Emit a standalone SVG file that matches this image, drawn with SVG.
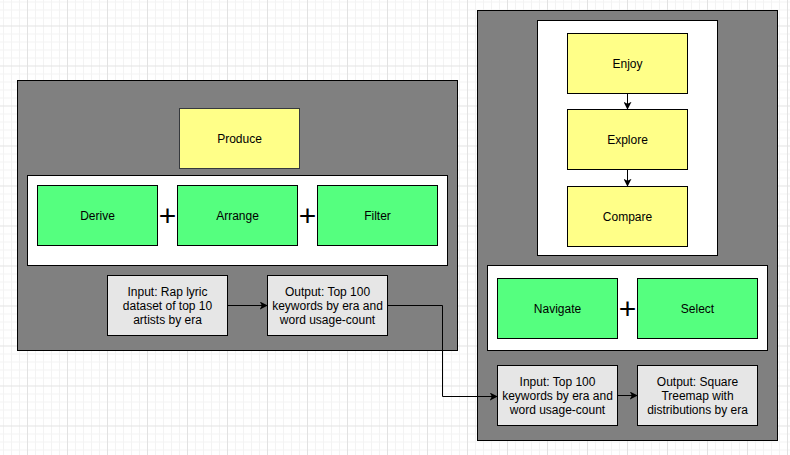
<svg xmlns="http://www.w3.org/2000/svg" width="790" height="455" viewBox="0 0 790 455">
<defs>
<pattern id="grid" patternUnits="userSpaceOnUse" x="27" y="25.5" width="40" height="40">
<path d="M8.5,0V40M16.5,0V40M24.5,0V40M32.5,0V40M0,8.5H40M0,16.5H40M0,24.5H40M0,32.5H40" stroke="#f3f3f3" stroke-width="1" fill="none"/>
<path d="M0.5,0V40M0,0.5H40" stroke="#e2e2e2" stroke-width="1" fill="none"/>
</pattern>
<marker id="arr" viewBox="0 0 10 10" refX="9" refY="5" markerWidth="8" markerHeight="8" markerUnits="userSpaceOnUse" orient="auto">
<path d="M0,0 L10,5 L0,10 L2.5,5 Z" fill="#000"/>
</marker>
</defs>
<style>
.panel{fill:#808080;stroke:#000;stroke-width:1}
.white{fill:#fff;stroke:#000;stroke-width:1}
.yellow{fill:#ffff88;stroke:#36393d;stroke-width:1}
.yellowb{fill:#ffff88;stroke:#000;stroke-width:1}
.green{fill:#55ff7f;stroke:#000;stroke-width:1}
.gray{fill:#e6e6e6;stroke:#000;stroke-width:1}
text{font-family:"Liberation Sans",Arial,sans-serif;font-size:12px;fill:#000;text-anchor:middle}
.plus{font-size:30px}
.conn{fill:none;stroke:#000;stroke-width:1;marker-end:url(#arr)}
</style>
<rect width="790" height="455" fill="#fff"/>
<rect width="790" height="455" fill="url(#grid)"/>

<g id="left-panel">
<rect class="panel" x="17.5" y="80.5" width="440" height="270"/>
</g>
<g id="produce">
<rect class="yellow" x="179.5" y="108.5" width="120" height="60"/>
<text x="239.5" y="142.5">Produce</text>
</g>
<g id="left-actions">
<rect class="white" x="27.5" y="175.5" width="420" height="90"/>
</g>
<g id="derive">
<rect class="green" x="37.5" y="185.5" width="120" height="60"/>
<text x="97.5" y="219.5">Derive</text>
</g>
<g id="plus1"><text class="plus" x="167.5" y="226">+</text></g>
<g id="arrange">
<rect class="green" x="177.5" y="185.5" width="120" height="60"/>
<text x="237.5" y="219.5">Arrange</text>
</g>
<g id="plus2"><text class="plus" x="307.5" y="226">+</text></g>
<g id="filter">
<rect class="green" x="317.5" y="185.5" width="120" height="60"/>
<text x="377.5" y="219.5">Filter</text>
</g>
<g id="input-left">
<rect class="gray" x="107.5" y="275.5" width="120" height="60"/>
<text x="167.5" y="296">Input: Rap lyric</text>
<text x="167.5" y="310">dataset of top 10</text>
<text x="167.5" y="324">artists by era</text>
</g>
<g id="output-left">
<rect class="gray" x="267.5" y="275.5" width="120" height="60"/>
<text x="327.5" y="296">Output: Top 100</text>
<text x="327.5" y="310">keywords by era and</text>
<text x="327.5" y="324">word usage-count</text>
</g>

<g id="right-panel">
<rect class="panel" x="477.5" y="10.5" width="300" height="430"/>
</g>
<g id="tasks">
<rect class="white" x="537.5" y="20.5" width="180" height="235"/>
</g>
<g id="enjoy">
<rect class="yellowb" x="567.5" y="33.5" width="120" height="60"/>
<text x="627.5" y="67.5">Enjoy</text>
</g>
<g id="explore">
<rect class="yellowb" x="567.5" y="109.5" width="120" height="60"/>
<text x="627.5" y="143.5">Explore</text>
</g>
<g id="compare">
<rect class="yellowb" x="567.5" y="186.5" width="120" height="60"/>
<text x="627.5" y="220.5">Compare</text>
</g>
<g id="right-actions">
<rect class="white" x="487.5" y="265.5" width="280" height="85"/>
</g>
<g id="navigate">
<rect class="green" x="497.5" y="278.5" width="120" height="60"/>
<text x="557.5" y="312.5">Navigate</text>
</g>
<g id="plus3"><text class="plus" x="627.5" y="319">+</text></g>
<g id="select">
<rect class="green" x="637.5" y="278.5" width="120" height="60" stroke="#36393d"/>
<text x="697.5" y="312.5">Select</text>
</g>
<g id="input-right">
<rect class="gray" x="497.5" y="365.5" width="120" height="60"/>
<text x="557.5" y="386">Input: Top 100</text>
<text x="557.5" y="400">keywords by era and</text>
<text x="557.5" y="414">word usage-count</text>
</g>
<g id="output-right">
<rect class="gray" x="637.5" y="365.5" width="120" height="60"/>
<text x="697.5" y="386">Output: Square</text>
<text x="697.5" y="400">Treemap with</text>
<text x="697.5" y="414">distributions by era</text>
</g>

<g id="connectors">
<path class="conn" d="M227.5,305.5H267"/>
<path class="conn" d="M387.5,305.5H442.5V396.5H497"/>
<path class="conn" d="M617.5,395.5H637"/>
<path class="conn" d="M627.5,93.5V109"/>
<path class="conn" d="M627.5,169.5V186"/>
</g>
</svg>
